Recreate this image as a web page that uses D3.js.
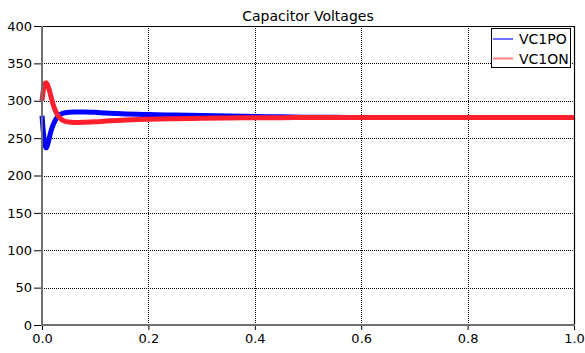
<!DOCTYPE html>
<html>
<head>
<meta charset="utf-8">
<script src="https://cdn.jsdelivr.net/npm/d3@7"></script>
<style>
  html, body { margin: 0; padding: 0; background: #fff; }
  svg { display: block; font-family: "DejaVu Sans", Verdana, sans-serif; }
</style>
</head>
<body>
<svg id="chart" width="585" height="353"></svg>
<script>
// Simulation time (s)
const time = [0, 0.002, 0.004, 0.006, 0.008, 0.010, 0.013, 0.016, 0.020, 0.025, 0.030, 0.035,
  0.040, 0.050, 0.060, 0.070, 0.080, 0.100, 0.120, 0.150, 0.200, 0.250, 0.300, 0.350,
  0.400, 0.450, 0.500, 0.550, 0.600, 0.700, 0.800, 0.900, 1.000];
// Upper capacitor voltage, positive arm (V)
const vc1po = [280, 262, 248, 239, 237, 240, 248, 257, 266, 274, 279, 282,
  283.5, 284.5, 285, 285, 285, 284.5, 283.5, 282.5, 281.5, 280.8, 280.2, 279.5,
  279, 278.5, 278, 277.8, 277.6, 277.5, 277.5, 277.5, 277.5];
// Upper capacitor voltage, negative arm (V)
const vc1on = [300, 312, 320, 323.5, 324, 322, 316, 308, 297, 287, 280, 276,
  273.5, 271.5, 271, 271, 271.2, 271.8, 272.8, 274, 275.2, 276, 276.5, 277,
  277.2, 277.4, 277.5, 277.5, 277.5, 277.5, 277.5, 277.5, 277.5];

const seriesNames = ["VC1PO", "VC1ON"];
const xTicks = [0, 0.2, 0.4, 0.6, 0.8, 1.0];
const yTicks = [0, 50, 100, 150, 200, 250, 300, 350, 400];
const title = "Capacitor Voltages";

const lineColors = ["#0000ff", "#ff1f2d"];
const legendColors = ["#7070ff", "#ff8080"];

const svg = d3.select("#chart");
const plot = { left: 42, right: 574, top: 26, bottom: 325 };

const x = d3.scaleLinear().domain([0, 1]).range([plot.left, plot.right]);
const y = d3.scaleLinear().domain([0, 400]).range([plot.bottom, plot.top]);

// Title
svg.append("text")
  .attr("x", (plot.left + plot.right) / 2).attr("y", 21)
  .attr("text-anchor", "middle")
  .attr("font-size", 14).attr("fill", "#000")
  .text(title);

// Dotted grid
const grid = svg.append("g").attr("stroke", "#000").attr("stroke-width", 1)
  .attr("stroke-dasharray", "1,1").attr("shape-rendering", "crispEdges");
grid.selectAll("line.h").data(yTicks.filter(v => v > 0 && v < 400)).join("line")
  .attr("class", "h")
  .attr("x1", plot.left).attr("x2", plot.right)
  .attr("y1", d => Math.round(y(d)) + 0.5).attr("y2", d => Math.round(y(d)) + 0.5);
grid.selectAll("line.v").data(xTicks.filter(v => v > 0 && v < 1)).join("line")
  .attr("class", "v")
  .attr("y1", plot.top).attr("y2", plot.bottom)
  .attr("x1", d => Math.round(x(d)) + 0.5).attr("x2", d => Math.round(x(d)) + 0.5);

// Frame: top and right in black
svg.append("path")
  .attr("d", `M${plot.left},${plot.top + 0.5}H${plot.right + 0.5}V${plot.bottom}`)
  .attr("fill", "none").attr("stroke", "#000").attr("stroke-width", 1.2);

// Traces
const line = d3.line()
  .x(d => x(d[0])).y(d => y(d[1]))
  .curve(d3.curveMonotoneX);

[vc1po, vc1on].forEach((vals, i) => {
  svg.append("path")
    .datum(time.map((t, k) => [t, vals[k]]))
    .attr("fill", "none")
    .attr("stroke", lineColors[i])
    .attr("stroke-width", 5)
    .attr("stroke-linejoin", "round")
    .attr("d", line);
});

// Axes
const yAxis = d3.axisLeft(y).tickValues(yTicks).tickFormat(d3.format("d"))
  .tickSize(8).tickPadding(2);
const xAxis = d3.axisBottom(x).tickValues(xTicks).tickFormat(d3.format(".1f"))
  .tickSize(5).tickPadding(4);

const gy = svg.append("g").attr("transform", `translate(${plot.left},0)`).call(yAxis);
const gx = svg.append("g").attr("transform", `translate(0,${plot.bottom})`).call(xAxis);

[gy, gx].forEach(g => {
  g.select(".domain").remove();
  g.selectAll(".tick line").attr("stroke", "#000");
  g.selectAll(".tick text").attr("font-size", 13).attr("fill", "#000")
    .attr("font-family", "DejaVu Sans, Verdana, sans-serif");
});

svg.append("line").attr("x1", plot.left).attr("x2", plot.left)
  .attr("y1", plot.top).attr("y2", plot.bottom + 1)
  .attr("stroke", "#6f6f6f").attr("stroke-width", 2);
svg.append("line").attr("x1", plot.left).attr("x2", plot.right + 1)
  .attr("y1", plot.bottom).attr("y2", plot.bottom)
  .attr("stroke", "#6f6f6f").attr("stroke-width", 2);

// Legend
const lg = svg.append("g");
lg.append("rect")
  .attr("x", 491.5).attr("y", 28.5).attr("width", 79).attr("height", 39)
  .attr("fill", "#fff").attr("stroke", "#000").attr("stroke-width", 1);
seriesNames.forEach((name, i) => {
  const yy = 39 + i * 19.5;
  lg.append("line").attr("x1", 493).attr("x2", 513).attr("y1", yy).attr("y2", yy)
    .attr("stroke", legendColors[i]).attr("stroke-width", 2);
  lg.append("text").attr("x", 519).attr("y", yy + 5)
    .attr("font-size", 14).attr("fill", "#000").text(name);
});
</script>
</body>
</html>
